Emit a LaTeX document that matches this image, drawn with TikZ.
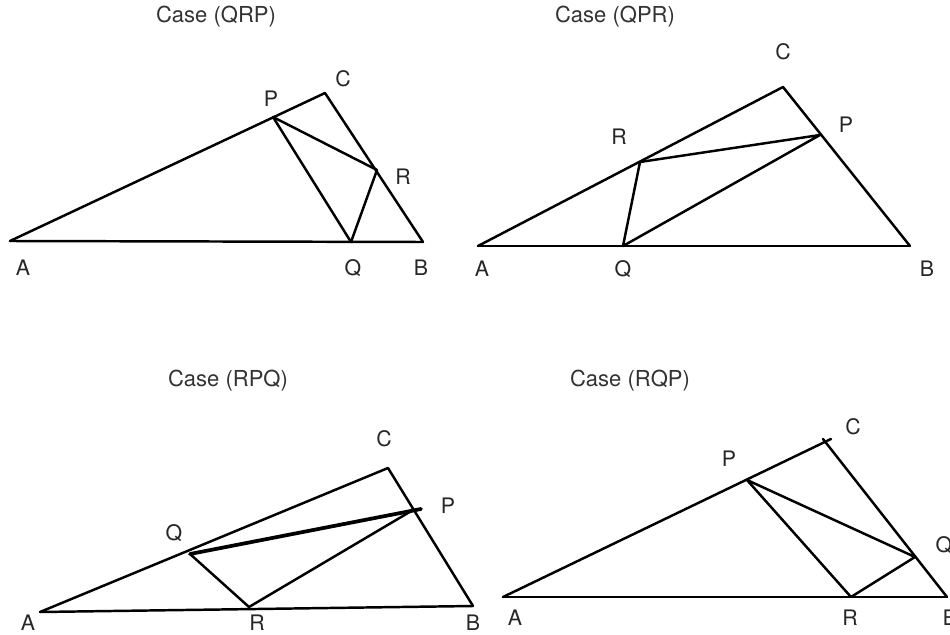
\documentclass[tikz,border=0pt]{standalone}
\usepackage{fontspec}
\setmainfont{TeX Gyre Heros}
\begin{document}
\begin{tikzpicture}[x=0.75pt,y=-0.75pt,
  seg/.style={line width=1.85pt, line join=round, line cap=round},
  thickseg/.style={line width=2.8pt, line cap=round},
  lbl/.style={font=\fontsize{16}{19}\selectfont, inner sep=0pt, text=black!85},
  ttl/.style={font=\fontsize{16.5}{20}\selectfont, inner sep=0pt, text=black!80}]
\useasboundingbox (0,0) rectangle (950,635);

% ---------- Case (QRP) ----------
\node[ttl] (t1) at (216,17) {Case (QRP)};
\coordinate (A1) at (10,241);
\coordinate (B1) at (423,242);
\coordinate (C1) at (325,93);
\coordinate (P1) at (273,117);
\coordinate (Q1) at (351,242);
\coordinate (R1) at (377,170);
\draw[seg] (A1) -- (B1);
\draw[seg] (A1) -- (C1) -- (B1);
\draw[seg] (P1) -- (Q1);
\draw[seg] (P1) -- (R1) -- (Q1);
\node[lbl] (lA1) at (23,268) {A};
\node[lbl] (lQ1) at (353,268) {Q};
\node[lbl] (lB1) at (421,268) {B};
\node[lbl] (lC1) at (343,79) {C};
\node[lbl] (lP1) at (271,99) {P};
\node[lbl] (lR1) at (403,177) {R};

% ---------- Case (QPR) ----------
\node[ttl] (t2) at (615,17) {Case (QPR)};
\coordinate (A2) at (478,246);
\coordinate (B2) at (910,246);
\coordinate (C2) at (783,87);
\coordinate (P2) at (820,135);
\coordinate (R2) at (640,162);
\coordinate (Q2) at (623,246);
\draw[seg] (A2) -- (B2);
\draw[seg] (A2) -- (C2) -- (B2);
\draw[seg] (R2) -- (P2) -- (Q2) -- (R2);
\node[lbl] (lA2) at (482,269) {A};
\node[lbl] (lQ2) at (623,269) {Q};
\node[lbl] (lB2) at (927,269) {B};
\node[lbl] (lC2) at (783,52) {C};
\node[lbl] (lP2) at (846,125) {P};
\node[lbl] (lR2) at (619,137) {R};

% ---------- Case (RPQ) ----------
\node[ttl] (t3) at (228,381) {Case (RPQ)};
\coordinate (A3) at (40,612);
\coordinate (B3) at (473,606);
\coordinate (C3) at (388,468);
\coordinate (P3) at (413,510);
\coordinate (P3x) at (421,509);
\coordinate (Q3) at (190,554);
\coordinate (R3) at (249,607);
\draw[seg] (A3) -- (B3);
\draw[seg] (A3) -- (C3) -- (B3);
\draw[seg] (Q3) -- (R3) -- (P3);
\draw[thickseg] (Q3) -- (P3x);
\node[lbl] (lA3) at (28,623) {A};
\node[lbl] (lR3) at (257,623) {R};
\node[lbl] (lB3) at (473,623) {B};
\node[lbl] (lC3) at (384,439) {C};
\node[lbl] (lP3) at (448,506) {P};
\node[lbl] (lQ3) at (174,533) {Q};

% ---------- Case (RQP) ----------
\node[ttl] (t4) at (630,381) {Case (RQP)};
\coordinate (A4) at (503,597);
\coordinate (B4) at (947,597);
\coordinate (C4) at (825,442);
\coordinate (C4x) at (831,439);
\coordinate (C4y) at (823,439);
\coordinate (P4) at (747,480);
\coordinate (Q4) at (915,557);
\coordinate (R4) at (851,597);
\draw[seg] (A4) -- (B4);
\draw[seg] (A4) -- (C4x);
\draw[seg] (C4y) -- (B4);
\draw[seg] (P4) -- (R4) -- (Q4) -- (P4);
\node[lbl] (lA4) at (515,618) {A};
\node[lbl] (lR4) at (850,618) {R};
\node[lbl] (lB4) at (950,618) {B};
\node[lbl] (lC4) at (853,427) {C};
\node[lbl] (lP4) at (729,459) {P};
\node[lbl] (lQ4) at (944,545) {Q};
\end{tikzpicture}
\end{document}
